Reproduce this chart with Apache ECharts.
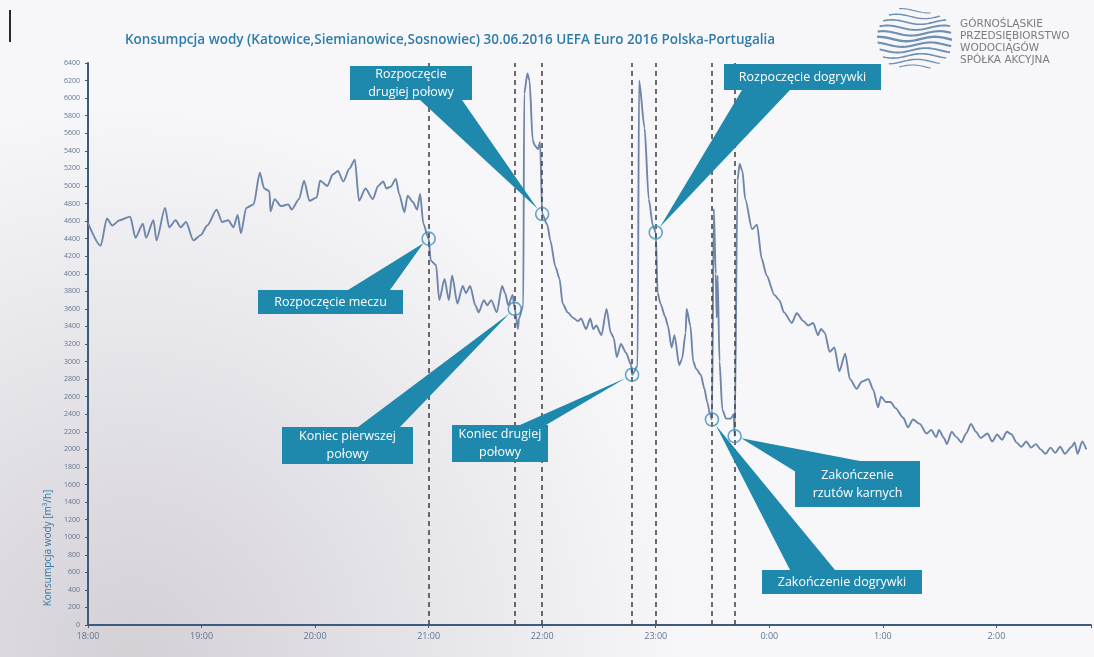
<!DOCTYPE html>
<html>
<head>
<meta charset="utf-8">
<script src="https://cdn.jsdelivr.net/npm/echarts@6/dist/echarts.min.js"></script>
<style>
  html, body { margin: 0; padding: 0; background: #f4f4f6; }
  #chart { width: 1094px; height: 657px; }
</style>
</head>
<body>
<div id="chart"></div>
<script>
// Water consumption, minutes after 18:00 on 30.06.2016
const minutes = [
  0, 6.7, 10, 12.8, 16.7, 22.3, 25.1, 29, 30.7, 34.6, 36.2, 40.7, 42.9, 46.3, 49, 51.8, 55.7, 59.6,
  63, 68, 70.8, 74.1, 76.9, 79.1, 80.8, 83.6, 87.5, 90.8, 93.1, 95.9, 96.4, 98.6, 102, 105.9, 107.6,
  111.5, 114.2, 117, 120.9, 122.6, 126.5, 129.3, 132.1, 134.9, 138.2, 141, 143.2, 146.6, 150.5, 153.3,
  156, 157.7, 159.9, 162.7, 164.4, 167.2, 168.9, 171.6, 173.9, 175.5, 177.2, 180,
  181.1, 183.9, 185.6, 188.4, 190.7, 192.4, 195.2, 198, 199.7, 201.9, 204.7, 206.4, 209.2, 210.9,
  213.1, 216, 218.8, 220.4, 222.1, 224.4, 225.5,
  227.2, 227.7, 230, 230.5, 232.2, 233.3, 235, 236.1, 237.8, 238.9, 240,
  242.7, 244.3, 247, 249.2, 250.8, 253.5, 256.2, 258.9, 260.5, 263.2, 265.4, 267, 268.6, 271.3,
  274, 276.2, 277.8, 279.4, 281.6, 284.3, 287, 287.5,
  290.4, 291.2, 294.1, 296.3, 298.5, 300,
  301, 302.5, 305, 306.4, 308.4, 309.9, 312.4, 313.9, 315.8, 316.3, 318.3, 319.8, 321.3, 323.8,
  325.7, 327.2, 328.7, 329.7,
  330.7, 331.7, 332.2, 332.7, 333.7, 335.2, 337.2, 339.7, 341.2, 341.7,
  343.2, 344.3, 345.8, 347.3, 350.9, 353.5, 356, 358.6, 362.7, 365.3, 367.8, 371.9, 374.5, 378.1,
  380.6, 383.2, 385.7, 387.3, 389.3, 391.9, 394.4, 397, 400.1, 402.6, 406.2, 408.8, 412.4, 414.9,
  417.5, 419, 421.6, 424.1, 426.7, 430.8, 433.3, 435.9, 439.5, 443.1, 445.6, 448.2, 449.7, 452.3,
  453.8, 456.4, 458.9, 461.5, 464, 466.6, 469.2, 471.7, 475.3, 477.8, 480.4, 483, 485.5, 488.1,
  490.6, 493.2, 495.8, 498.3, 500.9, 503.4, 506, 508.6, 511.1, 513.7, 516.2, 519.8, 521.3, 522.9,
  525.4, 527.5
];

// Consumption in m3/h
const flow = [
  4580, 4320, 4630, 4550, 4610, 4650, 4410, 4570, 4410, 4610, 4380, 4750, 4530, 4610, 4530, 4590, 4380, 4440,
  4550, 4730, 4590, 4610, 4530, 4670, 4460, 4750, 4790, 5150, 4970, 4940, 4710, 4850, 4770, 4790, 4730,
  4850, 5060, 4830, 4870, 5060, 5000, 5130, 5170, 5050, 5200, 5300, 4830, 4970, 4850, 5000,
  5050, 4970, 4990, 5080, 4910, 4700, 4890, 4820, 4730, 4910, 4570, 4400,
  4150, 4100, 3700, 3940, 3700, 3980, 3660, 3860, 3780, 3860, 3640, 3560, 3700, 3640,
  3700, 3560, 3860, 3780, 3640, 3760, 3600,
  3370, 3490, 3640, 6050, 6280, 6200, 5520, 5460, 5420, 5500, 4680,
  4560, 4380, 4080, 3940, 3660, 3560, 3500, 3460, 3490, 3370, 3490, 3370, 3410, 3300,
  3600, 3330, 3270, 3050, 3200, 3100, 2960, 2850,
  2950, 6200, 5660, 4850, 4550, 4470,
  3780, 3660, 3510, 3410, 3160, 3300, 2960, 3030, 3330, 3600, 3410, 3000, 2920, 2850,
  2690, 2540, 2400, 2340,
  4740, 4000, 3500, 3980, 3000, 2450, 2350, 2350, 2400, 2150,
  5060, 5250, 5170, 4850, 4510, 4560, 4170, 3980, 3760, 3700, 3560, 3440, 3550, 3460,
  3410, 3440, 3300, 3370, 3330, 3110, 3160, 2890, 3090, 2800, 2690, 2770, 2800, 2680,
  2480, 2600, 2540, 2540, 2470, 2360, 2250, 2340, 2290, 2180, 2220, 2140, 2220, 2130,
  2060, 2200, 2140, 2080, 2180, 2290, 2200, 2130, 2180, 2090, 2170, 2110, 2200, 2170,
  2080, 2030, 2090, 2020, 2060, 2000, 1950, 2020, 1960, 2030, 1950, 2030, 2080, 1950,
  2090, 2000
];

const hourLabels = ['18:00', '19:00', '20:00', '21:00', '22:00', '23:00', '0:00', '1:00', '2:00'];

// Match events (minutes after 18:00)
const eventMinutes = [180, 225.5, 240, 287.5, 300, 329.7, 341.7];
const eventLabels = [
  'Rozpoczęcie meczu',
  'Koniec pierwszej\npołowy',
  'Rozpoczęcie\ndrugiej połowy',
  'Koniec drugiej\npołowy',
  'Rozpoczęcie dogrywki',
  'Zakończenie dogrywki',
  'Zakończenie\nrzutów karnych'
];

const titleText = 'Konsumpcja wody (Katowice,Siemianowice,Sosnowiec) 30.06.2016 UEFA Euro 2016 Polska-Portugalia';
const yAxisTitle = 'Konsumpcja wody [m³/h]';
const logoLines = ['GÓRNOŚLĄSKIE', 'PRZEDSIĘBIORSTWO', 'WODOCIĄGÓW', 'SPÓŁKA AKCYJNA'];

const eventFlow = eventMinutes.map(t => flow[minutes.indexOf(t)]);

const chart = echarts.init(document.getElementById('chart'), null, { renderer: 'canvas' });

const axisColor = '#3f5b7c';
const labelColor = '#62758f';
const lineColor = '#6f86ab';
const calloutColor = '#1f88ad';

chart.setOption({
  animation: false,
  backgroundColor: {
    type: 'radial', x: 0.12, y: 1.0, r: 0.85,
    colorStops: [
      { offset: 0, color: '#d3d0d6' },
      { offset: 0.55, color: '#e6e5ea' },
      { offset: 1, color: '#f7f7f9' }
    ]
  },
  grid: { left: 88, right: 0, top: 63, bottom: 32, containLabel: false },
  xAxis: {
    type: 'value', min: 0, max: 530, interval: 60,
    axisLine: { show: true, onZero: false, lineStyle: { color: axisColor, width: 2 } },
    axisTick: { show: true, length: 3, lineStyle: { color: axisColor } },
    splitLine: { show: false },
    axisLabel: {
      color: labelColor, fontSize: 9, fontFamily: 'Open Sans', margin: 7,
      formatter: v => hourLabels[Math.round(v / 60)] || ''
    }
  },
  yAxis: {
    type: 'value', min: 0, max: 6400, interval: 200,
    axisLine: { show: true, lineStyle: { color: axisColor, width: 2 } },
    axisTick: { show: true, length: 3, lineStyle: { color: axisColor } },
    splitLine: { show: false },
    axisLabel: {
      color: labelColor, fontSize: 7, fontFamily: 'Open Sans', margin: 8,
      formatter: v => String(v)
    }
  },
  series: [
    {
      type: 'line', z: 2,
      data: minutes.map((t, i) => [t, flow[i]]),
      showSymbol: false, symbol: 'none',
      smooth: 0.25, smoothMonotone: 'x',
      lineStyle: { color: lineColor, width: 1.9 },
      markLine: {
        silent: true, symbol: 'none', label: { show: false },
        lineStyle: { type: [5, 4], color: '#47474b', width: 1.6 },
        data: eventMinutes.map(t => ({ xAxis: t }))
      }
    },
    {
      type: 'scatter', z: 30,
      data: eventMinutes.map((t, i) => [t, eventFlow[i]]),
      symbol: 'circle', symbolSize: 13,
      itemStyle: { color: 'rgba(255,255,255,0)', borderColor: '#3f8fbd', borderWidth: 1.6 }
    }
  ]
});

// Callout boxes: [x, y, w, h] and the two base corners of the pointer wedge
const callouts = [
  { i: 0, box: [258, 290, 145, 24], base: [[348, 290], [390, 290]] },
  { i: 1, box: [282, 427, 131, 37], base: [[358, 427], [400, 427]] },
  { i: 2, box: [350, 66, 122, 34], base: [[420, 100], [462, 100]] },
  { i: 3, box: [452, 425, 96, 37], base: [[520, 425], [546, 425]] },
  { i: 4, box: [724, 64, 157, 26], base: [[742, 90], [790, 90]] },
  { i: 5, box: [762, 570, 160, 24], base: [[790, 570], [835, 570]] },
  { i: 6, box: [795, 461, 125, 46], base: [[796, 472], [860, 461]] }
];

const graphics = [];

callouts.forEach(c => {
  const p = chart.convertToPixel({ gridIndex: 0 }, [eventMinutes[c.i], eventFlow[c.i]]);
  const mx = (c.base[0][0] + c.base[1][0]) / 2;
  const my = (c.base[0][1] + c.base[1][1]) / 2;
  const dx = mx - p[0], dy = my - p[1];
  const d = Math.hypot(dx, dy) || 1;
  const tip = [p[0] + dx / d * 7, p[1] + dy / d * 7];
  const [bx, by, bw, bh] = c.box;
  graphics.push({
    type: 'polygon', z: 20, silent: true,
    shape: { points: [c.base[0], c.base[1], tip] },
    style: { fill: calloutColor }
  });
  graphics.push({
    type: 'rect', z: 20, silent: true,
    shape: { x: bx, y: by, width: bw, height: bh },
    style: { fill: calloutColor }
  });
  graphics.push({
    type: 'text', z: 21, silent: true,
    x: bx + bw / 2, y: by + bh / 2,
    style: {
      text: eventLabels[c.i], fill: '#ffffff',
      font: '12.5px "Open Sans"', lineHeight: 18,
      align: 'center', verticalAlign: 'middle',
      textAlign: 'center', textVerticalAlign: 'middle'
    }
  });
});

// Title
graphics.push({
  type: 'text', z: 21, silent: true, x: 125, y: 40,
  style: {
    text: titleText, fill: '#2d7cab', font: '600 13.5px "Open Sans"',
    align: 'left', verticalAlign: 'middle', textAlign: 'left', textVerticalAlign: 'middle'
  }
});

// Vertical axis title
graphics.push({
  type: 'text', z: 21, silent: true, x: 48, y: 548, rotation: Math.PI / 2,
  style: {
    text: yAxisTitle, fill: '#2d7ca6', font: '10px "Open Sans"',
    align: 'center', verticalAlign: 'middle', textAlign: 'center', textVerticalAlign: 'middle'
  }
});

// Page edge mark at top left
graphics.push({
  type: 'rect', z: 21, silent: true,
  shape: { x: 9, y: 10, width: 2, height: 32 },
  style: { fill: '#2a2a2e' }
});

// Company logo: wavy lines inside a circle
const cx = 915, cy = 39, rx = 38, ry = 31, nWaves = 11;
for (let k = 0; k < nWaves; k++) {
  const yy = cy - ry + (k + 0.5) * (2 * ry / nWaves);
  const rel = (yy - cy) / ry;
  const hw = rx * Math.sqrt(Math.max(0, 1 - rel * rel));
  const pts = [];
  for (let xx = cx - hw; xx <= cx + hw; xx += 1.5) {
    pts.push([xx, yy + 2.2 * Math.sin((xx - cx) / 9 + k * 0.5)]);
  }
  graphics.push({
    type: 'polyline', z: 21, silent: true,
    shape: { points: pts },
    style: { stroke: '#6f8fb3', lineWidth: 2.4 - 1.4 * Math.abs(rel), fill: null }
  });
}
logoLines.forEach((t, k) => {
  graphics.push({
    type: 'text', z: 21, silent: true, x: 960, y: 24 + k * 12,
    style: {
      text: t, fill: '#7a7a80', font: '10.5px "DejaVu Sans"',
      align: 'left', verticalAlign: 'middle', textAlign: 'left', textVerticalAlign: 'middle'
    }
  });
});

chart.setOption({ graphic: { elements: graphics } });
</script>
</body>
</html>
